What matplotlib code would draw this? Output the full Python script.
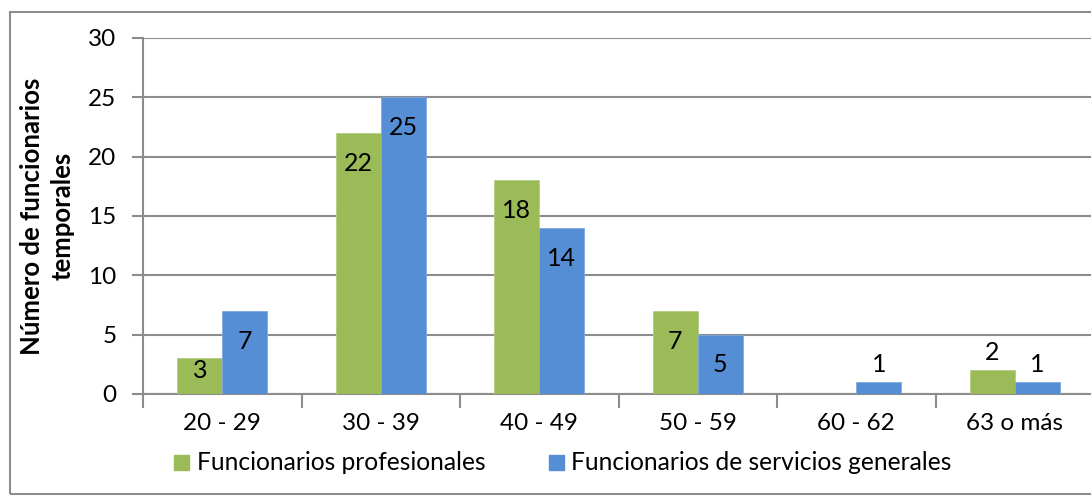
import numpy as np
import matplotlib
matplotlib.use("Agg")
import matplotlib.pyplot as plt
from matplotlib.patches import Rectangle

plt.rcParams['font.family'] = ['Lato', 'DejaVu Sans']

categories = ["20 - 29", "30 - 39", "40 - 49", "50 - 59", "60 - 62", "63 o más"]
profesionales = [3, 22, 18, 7, 0, 2]
servicios = [7, 25, 14, 5, 1, 1]
series_names = ["Funcionarios profesionales", "Funcionarios de servicios generales"]

C_GREEN = "#9BBB59"
C_BLUE = "#558ED5"
C_GRID = "#8C8C8C"
FS = 17.5

W, H = 1091, 496
fig = plt.figure(figsize=(W / 100, H / 100), dpi=100)
# axes: left 143, right ~1094, top 38, bottom 394 (pixels)
ax = fig.add_axes([143 / W, 1 - 394 / H, (1094 - 143) / W, (394 - 38) / H])

x = np.arange(len(categories))
bw = 0.284
ax.bar(x - bw / 2, profesionales, bw, color=C_GREEN, edgecolor="#B5CC85", lw=0.6, zorder=3)
ax.bar(x + bw / 2, servicios, bw, color=C_BLUE, edgecolor="#7FA9E0", lw=0.6, zorder=3)

def label(xc, v):
    # inside end for tall bars, above for the short ones (like Excel does)
    if v == 0:
        return
    if v >= 5:
        y = v - 2.55
    elif v >= 3:
        y = v * 0.67
    else:
        y = v + 1.5
    ax.text(xc, y, str(v), ha="center", va="center", fontsize=18, color="black", zorder=4)

for i in range(len(categories)):
    label(x[i] - bw / 2, profesionales[i])
    label(x[i] + bw / 2, servicios[i])

ax.set_xlim(-0.5, len(categories) - 0.5)
ax.set_ylim(0, 30)
ax.set_yticks(range(0, 31, 5))
ax.yaxis.grid(True, color=C_GRID, lw=1.5, zorder=0)
ax.set_axisbelow(True)
for s in ["top", "right"]:
    ax.spines[s].set_visible(False)
for s in ["left", "bottom"]:
    ax.spines[s].set_color(C_GRID)
    ax.spines[s].set_linewidth(1.5)
ax.tick_params(axis="y", length=8, width=1.5, color=C_GRID, labelsize=FS, pad=11)
ax.set_xticks(x)
ax.set_xticklabels(categories)
ax.tick_params(axis="x", length=0, labelsize=FS, pad=14)
ax.set_xticks(np.arange(len(categories) + 1) - 0.5, minor=True)
ax.tick_params(axis="x", which="minor", length=10, width=1.5, color=C_GRID)

ax.set_ylabel("Número de funcionarios\ntemporales", fontsize=18.5, fontweight="bold", labelpad=10,
              linespacing=1.3)

# legend
lx = [174 / W, 549 / W]
tx = [197 / W, 571 / W]
ly = 1 - 462 / H
cols = [C_GREEN, C_BLUE]
for px, qx, col, name in zip(lx, tx, cols, series_names):
    fig.patches.append(Rectangle((px, ly - 7.5 / H), 15 / W, 15 / H, transform=fig.transFigure,
                                 color=col, figure=fig))
    fig.text(qx, ly, name, fontsize=17.7, va="center", ha="left")

# outer border
fig.patches.append(Rectangle((10 / W, 1 - 494 / H), (W + 20) / W, (494 - 12) / H,
                             transform=fig.transFigure, fill=False, edgecolor="#8C8C8C",
                             lw=1.5, figure=fig))

fig.savefig("out.png", dpi=100)
